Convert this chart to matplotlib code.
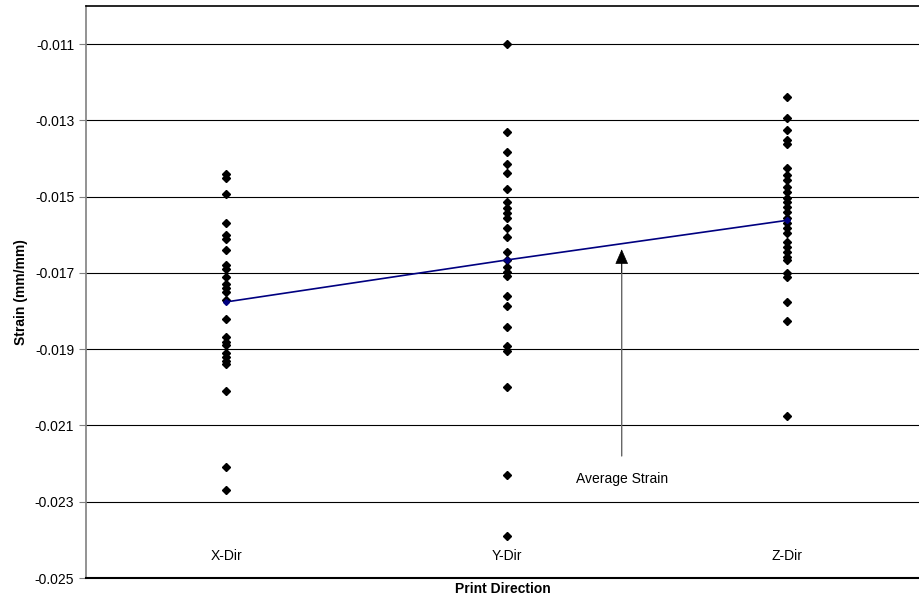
import matplotlib
matplotlib.use("Agg")
import matplotlib.pyplot as plt

plt.rcParams['font.family'] = ['Liberation Sans', 'DejaVu Sans']

# strain values (mm/mm)
directions = ["X-Dir", "Y-Dir", "Z-Dir"]
x_dir = [-0.0144, -0.0145, -0.01494, -0.0157, -0.0160, -0.0161, -0.0164,
         -0.0168, -0.0169, -0.0171, -0.0173, -0.0174, -0.0175, -0.0177,
         -0.0182, -0.01867, -0.0188, -0.0189, -0.0191, -0.0192, -0.0193,
         -0.0194, -0.0201, -0.0221, -0.0227]
y_dir = [-0.0110, -0.01331, -0.01382, -0.01414, -0.01437, -0.0148, -0.01515,
         -0.0153, -0.01544, -0.01557, -0.01583, -0.01605, -0.01644, -0.01666,
         -0.01684, -0.01697, -0.01708, -0.0176, -0.01788, -0.01842, -0.01892,
         -0.01904, -0.01998, -0.0223, -0.0239]
z_dir = [-0.01238, -0.01294, -0.01325, -0.01351, -0.01362, -0.01426, -0.01443,
         -0.01456, -0.01474, -0.01487, -0.01504, -0.01513, -0.01526, -0.01539,
         -0.01557, -0.0157, -0.01583, -0.01596, -0.01618, -0.01631, -0.01644,
         -0.01657, -0.01666, -0.01701, -0.01711, -0.01775, -0.01825, -0.02075]
avg_strain = [-0.01776, -0.01666, -0.01562]
y_ticks = [-0.025, -0.023, -0.021, -0.019, -0.017, -0.015, -0.013, -0.011]

fig = plt.figure(figsize=(9.19, 5.99), dpi=100)
ax = fig.add_axes([86 / 919, 21 / 599, 833 / 919, 572 / 599])

for i, vals in enumerate([x_dir, y_dir, z_dir]):
    ax.plot([i + 1] * len(vals), vals, linestyle="none", marker="D",
            ms=4.2, color="black", zorder=3)

ax.plot([1, 2, 3], avg_strain, color="#000080", lw=1.2, marker="D", ms=3,
        zorder=4)

# arrow: grey shaft, black head
ax.annotate("", xy=(2.41, -0.01638), xytext=(2.41, -0.0218),
            arrowprops=dict(arrowstyle="-", color="#666666", lw=1,
                            shrinkA=0, shrinkB=6))
ax.annotate("", xy=(2.41, -0.01638), xytext=(2.41, -0.0170),
            arrowprops=dict(arrowstyle="-|>,head_length=0.8,head_width=0.35",
                            color="black", lw=0.5,
                            mutation_scale=12, shrinkA=0, shrinkB=0))
ax.text(2.41, -0.0224, "Average Strain", ha="center", va="center",
        fontsize=10)

ax.set_xlim(0.5, 3.47)
ax.set_ylim(-0.025, -0.010)
ax.set_yticks(y_ticks)
ax.set_yticklabels(["%.3f" % v for v in y_ticks], fontsize=10)
ax.set_xticks([1, 2, 3])
ax.set_xticklabels(directions, fontsize=10)
ax.tick_params(axis="x", length=0, pad=-21)
ax.tick_params(axis="y", length=5, direction="out", color="#808080")
ax.yaxis.grid(True, color="black", lw=0.8)
ax.set_axisbelow(True)

ax.spines["right"].set_visible(False)
ax.spines["left"].set_color("#808080")
ax.spines["left"].set_linewidth(1.2)
ax.spines["top"].set_linewidth(1.2)
ax.spines["bottom"].set_linewidth(1.5)

ax.set_ylabel("Strain (mm/mm)", fontsize=10, fontweight="bold", labelpad=5)
ax.set_xlabel("Print Direction", fontsize=10, fontweight="bold", labelpad=3)

fig.savefig("out.png", dpi=100)
